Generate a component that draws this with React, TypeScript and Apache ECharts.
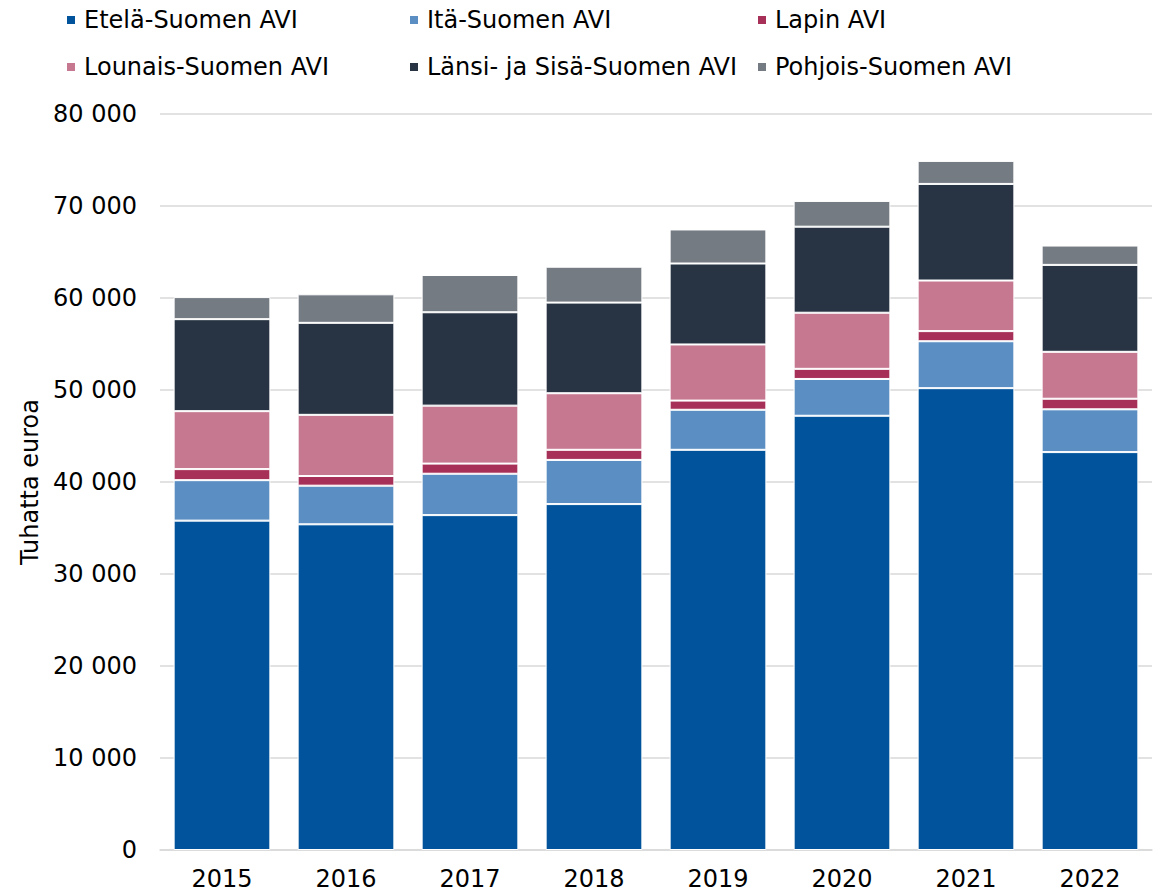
import React, { useEffect, useRef } from "react";
import * as echarts from "echarts";

const years = ["2015", "2016", "2017", "2018", "2019", "2020", "2021", "2022"];
const etela = [35800, 35400, 36400, 37600, 43500, 47200, 50200, 43250];
const ita = [4400, 4200, 4500, 4800, 4350, 4000, 5100, 4650];
const lapin = [1200, 1050, 1100, 1100, 1000, 1100, 1100, 1150];
const lounais = [6300, 6650, 6300, 6150, 6100, 6100, 5500, 5100];
const lansi = [10000, 10000, 10150, 9850, 8800, 9350, 10500, 9450];
const pohjois = [2400, 3100, 4050, 3900, 3700, 2800, 2500, 2100];

const seriesDefs = [
  { name: "Etelä-Suomen AVI", data: etela, color: "#01549c" },
  { name: "Itä-Suomen AVI", data: ita, color: "#5b8fc3" },
  { name: "Lapin AVI", data: lapin, color: "#a73058" },
  { name: "Lounais-Suomen AVI", data: lounais, color: "#c67891" },
  { name: "Länsi- ja Sisä-Suomen AVI", data: lansi, color: "#283443" },
  { name: "Pohjois-Suomen AVI", data: pohjois, color: "#757b83" },
];

const legendPos = [
  { left: 67, top: 8 },
  { left: 410, top: 8 },
  { left: 758, top: 8 },
  { left: 67, top: 55 },
  { left: 410, top: 55 },
  { left: 758, top: 55 },
];

const FONT = "DejaVu Sans, Verdana, sans-serif";

export default function App() {
  const ref = useRef<HTMLDivElement>(null);
  useEffect(() => {
    document.body.style.margin = "0";
    if (!ref.current) return;
    const chart = echarts.init(ref.current, null, { renderer: "svg" });
    chart.setOption({
      animation: false,
      textStyle: { fontFamily: FONT },
      legend: seriesDefs.map((s, i) => ({
        data: [s.name],
        left: legendPos[i].left,
        top: legendPos[i].top,
        padding: 0,
        icon: "rect",
        itemWidth: 8,
        itemHeight: 8,
        selectedMode: false,
        itemStyle: { borderWidth: 0 },
        textStyle: {
          fontFamily: FONT,
          fontSize: 24,
          lineHeight: 24,
          color: "#000",
          padding: [0, 0, 0, 4],
        },
      })),
      grid: { left: 160, right: 8, top: 114, bottom: 42 },
      xAxis: {
        type: "category",
        data: years,
        axisLine: { show: true, lineStyle: { color: "#d9d9d9", width: 1.5 } },
        axisTick: { show: false },
        axisLabel: { fontFamily: FONT, fontSize: 24, lineHeight: 24, color: "#000", margin: 17 },
      },
      yAxis: {
        type: "value",
        min: 0,
        max: 80000,
        interval: 10000,
        name: "Tuhatta euroa",
        nameLocation: "middle",
        nameRotate: 90,
        nameGap: 116,
        nameTextStyle: { fontFamily: FONT, fontSize: 24, color: "#000" },
        axisLine: { show: false },
        axisTick: { show: false },
        splitLine: { lineStyle: { color: "#d9d9d9", width: 1.5 } },
        axisLabel: {
          fontFamily: FONT,
          fontSize: 24,
          color: "#000",
          margin: 23,
          formatter: (v: number) => String(v).replace(/\B(?=(\d{3})+(?!\d))/g, " "),
        },
      },
      series: seriesDefs.map((s) => ({
        name: s.name,
        type: "bar",
        stack: "total",
        data: s.data,
        barCategoryGap: "22%",
        itemStyle: { color: s.color, borderColor: "#fff", borderWidth: 1 },
      })),
    });
    return () => chart.dispose();
  }, []);
  return <div ref={ref} style={{ width: 1160, height: 892 }} />;
}
